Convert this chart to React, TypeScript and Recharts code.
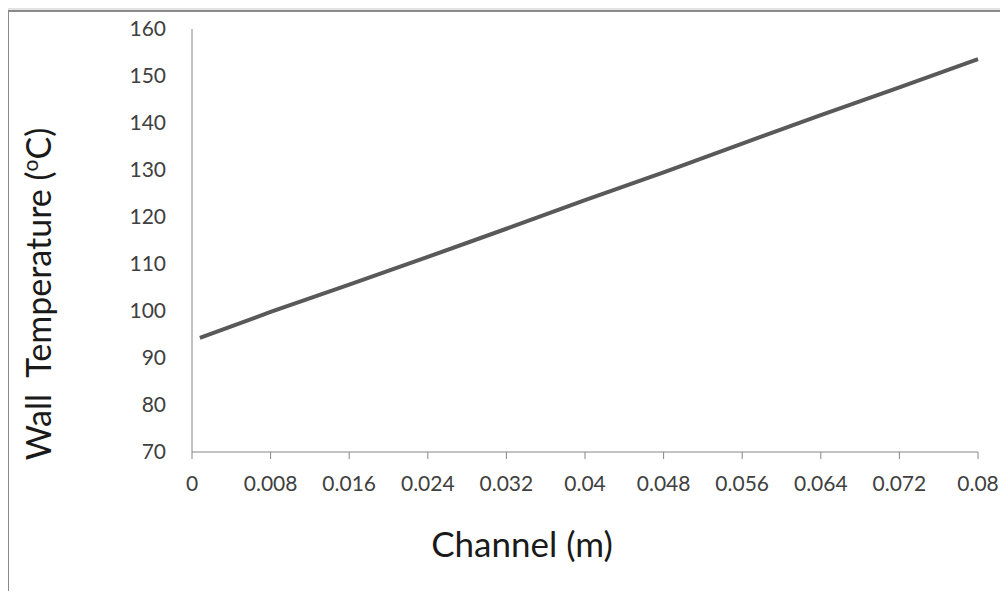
import React from 'react';
import { LineChart, Line, XAxis, YAxis, Label } from 'recharts';

const channel = [0.0008, 0.008, 0.016, 0.024, 0.032, 0.04, 0.048, 0.056, 0.064, 0.072, 0.08];
const wallTemp = [94.3, 99.8, 105.6, 111.5, 117.5, 123.6, 129.5, 135.6, 141.7, 147.6, 153.6];
const xTicks = [0, 0.008, 0.016, 0.024, 0.032, 0.04, 0.048, 0.056, 0.064, 0.072, 0.08];
const xTickLabels = ['0', '0.008', '0.016', '0.024', '0.032', '0.04', '0.048', '0.056', '0.064', '0.072', '0.08'];
const yTicks = [70, 80, 90, 100, 110, 120, 130, 140, 150, 160];

const data = channel.map((x, i) => ({ x, temp: wallTemp[i] }));

const FONT = 'Lato, "Open Sans", sans-serif';
const AXIS = '#868686';

export default function App() {
  return (
    <div style={{ position: 'relative', width: 1008, height: 599, margin: -8, background: '#e3e3e3', overflow: 'hidden', fontFamily: FONT }}>
      <div style={{ position: 'absolute', left: 7, top: 10, width: 1040, height: 660, background: '#fff', border: '2px solid #8a8a8a' }} />
      <div style={{ position: 'absolute', left: 0, top: 0 }}>
        <LineChart width={1008} height={599} data={data} margin={{ top: 29, right: 30, bottom: 87, left: 92 }}>
          <XAxis
            dataKey="x"
            type="number"
            domain={[0, 0.08]}
            ticks={xTicks}
            tickFormatter={(v: number) => xTickLabels[xTicks.indexOf(v)] ?? String(v)}
            height={60}
            stroke={AXIS}
            tickSize={7}
            tickMargin={17}
            tick={{ fontSize: 21, fill: '#404040', fontFamily: FONT }}
          >
            <Label
              content={() => (
                <text x={522} y={557} textAnchor="middle" fontSize={35} fill="#1a1a1a" fontFamily={FONT}>
                  Channel (m)
                </text>
              )}
            />
          </XAxis>
          <YAxis
            type="number"
            domain={[70, 160]}
            ticks={yTicks}
            width={100}
            stroke={AXIS}
            tickLine={false}
            tickMargin={20}
            tick={{ fontSize: 21, fill: '#404040', fontFamily: FONT }}
          >
            <Label
              content={() => (
                <text
                  x={51}
                  y={294}
                  transform="rotate(-90, 51, 294)"
                  textAnchor="middle"
                  fontSize={34}
                  fill="#1a1a1a"
                  fontFamily={FONT}
                  style={{ whiteSpace: 'pre' }}
                >
                  Wall  Temperature (<tspan fontSize={21} dy={-13}>o</tspan><tspan dy={13}>C)</tspan>
                </text>
              )}
            />
          </YAxis>
          <Line type="linear" dataKey="temp" stroke="#595959" strokeWidth={4} dot={false} isAnimationActive={false} />
        </LineChart>
      </div>
    </div>
  );
}
